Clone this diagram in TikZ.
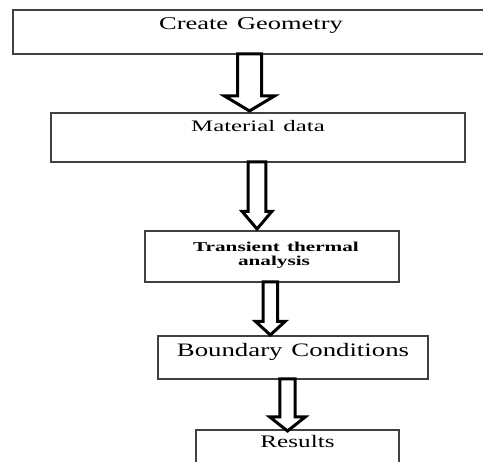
\documentclass[tikz,border=0pt]{standalone}
\usepackage{graphicx}
\usepackage{fontspec}
\setmainfont{Liberation Serif}
\usetikzlibrary{calc}
\tikzset{
  boxnode/.style={draw=black!75, line width=1.5pt, inner sep=0pt, outer sep=0pt,
    anchor=north west, align=center, text=black},
  barrow/.style={draw=black, line width=3pt, fill=white, line join=miter},
}
% from, to, x, shaft half width, head half width, head length, tip gap
\newcommand\blockarr[7]{%
  \draw[barrow] let \p1=(#1.south), \p2=(#2.north) in
    (#3-#4,\y1) -- (#3-#4,\y2+#7+#6) -- (#3-#5,\y2+#7+#6) -- (#3,\y2+#7)
    -- (#3+#5,\y2+#7+#6) -- (#3+#4,\y2+#7+#6) -- (#3+#4,\y1) -- cycle;}
\begin{document}
\begin{tikzpicture}[x=1pt,y=1pt]
\useasboundingbox (0,0) rectangle (483,462);
\fill[white] (0,0) rectangle (483,462);

\node[boxnode, text width=476pt, text height=20pt, text depth=24pt,
  font={\fontsize{18}{20}\selectfont}] (geo) at (13,452)
  {\scalebox{1.47}[1]{Create Geometry}};

\node[boxnode, text width=414pt, text height=19pt, text depth=30pt,
  font={\fontsize{16}{18}\selectfont}] (mat) at (51,349)
  {\scalebox{1.55}[1]{Material data}};

\node[boxnode, text width=254pt, text height=21pt, text depth=30pt,
  font={\fontsize{13.6}{13.5}\selectfont\bfseries}] (tra) at (145,231)
  {\hspace*{8pt}\scalebox{1.56}[1]{Transient thermal}\\\hspace*{4pt}\scalebox{1.56}[1]{analysis}};

\node[boxnode, text width=270pt, text height=21pt, text depth=22pt,
  font={\fontsize{19}{21}\selectfont}] (bnd) at (158,126)
  {\scalebox{1.41}[1]{Boundary Conditions}};

\node[boxnode, text width=203pt, text height=18pt, text depth=32pt,
  font={\fontsize{17.6}{19}\selectfont}] (res) at (196,32)
  {\scalebox{1.43}[1]{Results}};

\blockarr{geo}{mat}{249.5}{12}{25}{15}{2}
\blockarr{mat}{tra}{257}{8.8}{14.8}{17.5}{2}
\blockarr{tra}{bnd}{270.3}{7.2}{14.7}{13.5}{1}
\blockarr{bnd}{res}{287.5}{7.7}{17.7}{14}{-1}
\end{tikzpicture}
\end{document}
